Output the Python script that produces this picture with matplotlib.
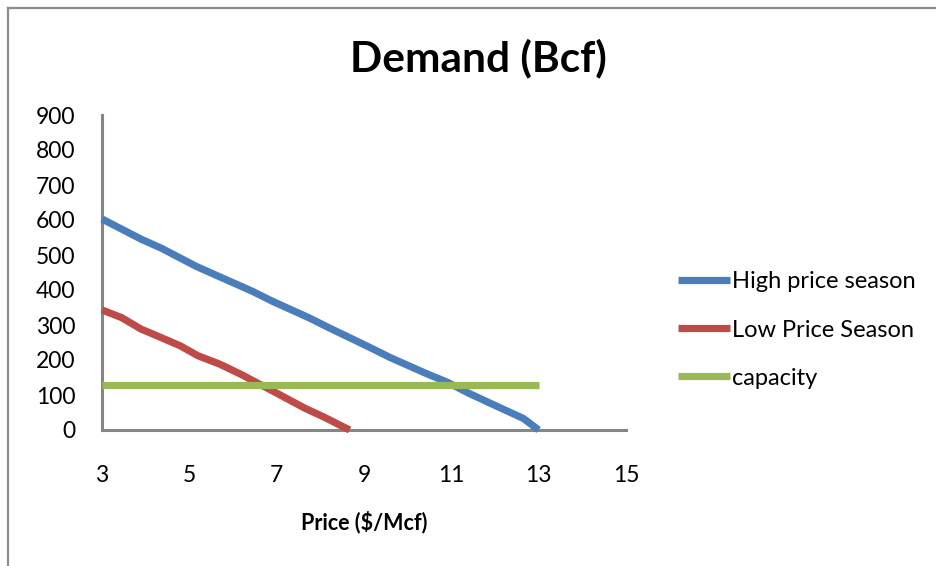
import matplotlib
matplotlib.use("Agg")
import matplotlib.pyplot as plt
from matplotlib.lines import Line2D

plt.rcParams["font.family"] = ["Lato", "DejaVu Sans"]

# Demand curves (price in $/Mcf, demand in Bcf)
high_price = [3.0, 3.9, 4.35, 5.15, 5.6, 6.45, 6.9, 7.75, 8.2, 9.1, 9.6,
              10.45, 10.9, 11.4, 11.9, 12.65, 13.0]
high_demand = [603, 545, 520, 468, 443, 396, 368, 320, 292, 238, 207,
               160, 137, 105, 76, 33, 0]

low_price = [3.0, 3.45, 3.9, 4.3, 4.8, 5.2, 5.7, 6.2, 6.5, 6.9, 7.65, 8.1, 8.67]
low_demand = [343, 321, 288, 267, 240, 212, 188, 158, 138, 112, 62, 36, 0]

capacity_price = [3, 13]
capacity_level = [130, 130]

x_ticks = [3, 5, 7, 9, 11, 13, 15]
y_ticks = [0, 100, 200, 300, 400, 500, 600, 700, 800, 900]

W, H = 937, 566
fig = plt.figure(figsize=(W / 100, H / 100), dpi=100)

# outer chart frame (top and left edges visible)
frame_kw = dict(color="#8c8c8c", lw=1.6, transform=fig.transFigure)
fig.add_artist(Line2D([8 / W, 1.0], [1 - 8 / H, 1 - 8 / H], **frame_kw))
fig.add_artist(Line2D([8 / W, 8 / W], [0.0, 1 - 8 / H], **frame_kw))

left, right = 102 / W, 626 / W
bottom, top = 1 - 430 / H, 1 - 115 / H
ax = fig.add_axes([left, bottom, right - left, top - bottom])

lw = 5.2
ax.plot(high_price, high_demand, color="#4A7EBB", lw=lw, label="High price season",
        clip_on=False, solid_capstyle="butt", zorder=3)
ax.plot(low_price, low_demand, color="#BE4B48", lw=lw, label="Low Price Season",
        clip_on=False, solid_capstyle="butt", zorder=3)
ax.plot(capacity_price, capacity_level, color="#98B954", lw=lw, label="capacity",
        clip_on=False, solid_capstyle="butt", zorder=3)

ax.set_xlim(3, 15)
ax.set_ylim(0, 900)
ax.set_xticks(x_ticks)
ax.set_yticks(y_ticks)
ax.tick_params(axis="both", length=0, labelsize=16.5, colors="black")
ax.tick_params(axis="x", pad=25)
ax.tick_params(axis="y", pad=19)

for s in ("top", "right"):
    ax.spines[s].set_visible(False)
for s in ("left", "bottom"):
    ax.spines[s].set_color("#868686")
    ax.spines[s].set_linewidth(2.2)
    ax.spines[s].set_zorder(2)

fig.text(478 / W, 1 - 58 / H, "Demand (Bcf)", ha="center", va="center",
         fontsize=30.5, fontweight="bold")
fig.text(364 / W, 1 - 522 / H, "Price ($/Mcf)", ha="center", va="center",
         fontsize=15.5, fontweight="bold")

fig.legend(loc="center left", bbox_to_anchor=(678 / W, 1 - 330 / H),
           frameon=False, fontsize=17, handlelength=2.2, handletextpad=0.1,
           labelspacing=1.15, borderaxespad=0, borderpad=0)

fig.savefig("out.png", dpi=100)
